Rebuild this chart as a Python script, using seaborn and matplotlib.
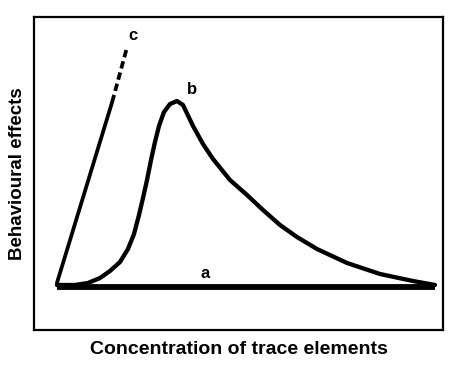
import matplotlib
matplotlib.use("Agg")
import matplotlib.pyplot as plt
import seaborn as sns

sns.set_theme(style="white")
plt.rcParams['font.family'] = ['Liberation Sans', 'DejaVu Sans']
plt.rcParams['text.color'] = 'black'
plt.rcParams['axes.labelcolor'] = 'black'

# curve a: flat baseline
a_x = [5.6, 98.0]
a_y = [13.7, 13.7]

# curve b: hump
b_x = [5.62, 10.02, 13.20, 16.14, 18.58, 21.03, 22.98, 24.45, 25.67, 26.65, 27.63, 28.61, 29.58,
       30.56, 31.78, 33.25, 34.96, 36.43, 38.88, 41.32, 43.77, 47.92, 52.08, 55.99, 60.15, 64.30,
       69.19, 76.53, 84.60, 92.67, 98.04]
b_y = [14.38, 14.38, 15.02, 16.61, 18.85, 21.73, 25.88, 30.67, 36.74, 42.17, 47.92, 54.31, 60.06,
       65.18, 69.65, 72.20, 73.16, 71.88, 65.18, 59.42, 54.63, 47.92, 43.13, 38.34, 33.55, 29.71,
       25.88, 21.41, 17.89, 15.65, 14.38]

# curve c: straight rise, solid then dashed
c_solid_x = [5.6, 19.1]
c_solid_y = [15.0, 72.8]
c_dash_x = [19.1, 22.7]
c_dash_y = [72.8, 90.1]

labels = ["a", "b", "c"]
label_x = [41.8, 38.6, 24.2]
label_y = [18.2, 76.7, 94.2]

fig = plt.figure(figsize=(4.55, 3.69), dpi=100)
ax = fig.add_axes([34/455, 39/369, 409/455, 313/369])

sns.lineplot(x=a_x, y=a_y, ax=ax, color="black", lw=4.2, sort=False, solid_capstyle="butt")
sns.lineplot(x=b_x, y=b_y, ax=ax, color="black", lw=3.1, sort=False,
             solid_joinstyle="round", solid_capstyle="round")
sns.lineplot(x=c_solid_x, y=c_solid_y, ax=ax, color="black", lw=2.7, sort=False)
sns.lineplot(x=c_dash_x, y=c_dash_y, ax=ax, color="black", lw=2.7, sort=False,
             linestyle=(0, (2.0, 1.1)))

for t, x, y in zip(labels, label_x, label_y):
    ax.text(x, y, t, fontsize=12, fontweight="bold", ha="center", va="center", color="black")

ax.set_xlim(0, 100)
ax.set_ylim(0, 100)
ax.set_xticks([])
ax.set_yticks([])
for s in ax.spines.values():
    s.set_color("black")
    s.set_linewidth(1.6)
    s.set_visible(True)

ax.set_xlabel("Concentration of trace elements", fontsize=14, fontweight="bold", labelpad=8)
ax.set_ylabel("Behavioural effects", fontsize=13.5, fontweight="bold", labelpad=6)

fig.savefig("out.png", dpi=100, facecolor="white")
